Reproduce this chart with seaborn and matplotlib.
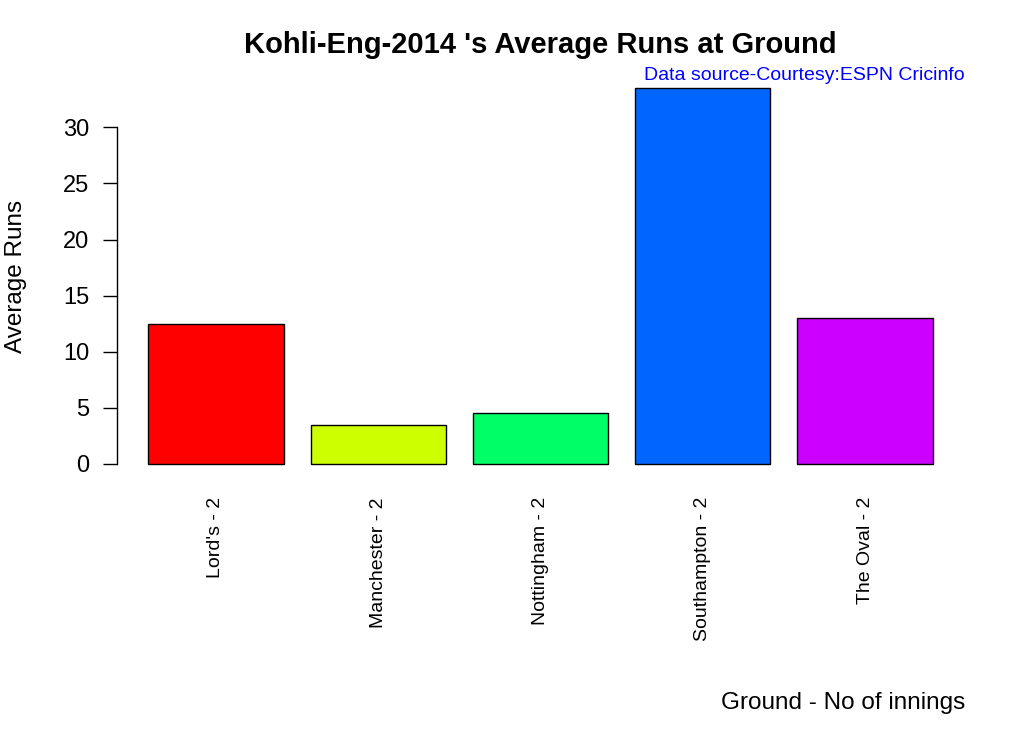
import matplotlib
matplotlib.use("Agg")
import matplotlib.pyplot as plt
import seaborn as sns

# average runs per ground (2 innings each)
grounds = ["Lord's - 2", "Manchester - 2", "Nottingham - 2", "Southampton - 2", "The Oval - 2"]
avg_runs = [12.5, 3.5, 4.5, 33.5, 13.0]
bar_colors = ["#FF0000", "#CCFF00", "#00FF66", "#0066FF", "#CC00FF"]
yticks = [0, 5, 10, 15, 20, 25, 30]

sns.set_style("white")
plt.rcParams['font.family'] = ['Liberation Sans', 'DejaVu Sans']
plt.rcParams['text.color'] = 'black'
plt.rcParams['xtick.color'] = 'black'
plt.rcParams['ytick.color'] = 'black'
plt.rcParams['axes.labelcolor'] = 'black'

W, H = 1024, 731
fig = plt.figure(figsize=(W / 100, H / 100), dpi=100)
ax = fig.add_axes([117 / W, 1 - 479 / H, (964 - 117) / W, (479 - 73) / H])

sns.barplot(x=grounds, y=avg_runs, hue=grounds, palette=bar_colors,
            edgecolor="black", linewidth=1, width=1 / 1.2, saturation=1,
            legend=False, ax=ax)

ax.set_xlim(-0.61, 4.61)
ax.set_ylim(-1.34, 34.84)
ax.set_yticks(yticks)
ax.set_yticklabels([str(t) for t in yticks])
ax.tick_params(axis='y', direction='out', length=10, width=1, color='black',
               labelcolor='black', labelsize=17, pad=10, left=True)
ax.tick_params(axis='x', length=0, labelsize=14, labelcolor='black', pad=13, rotation=90)
for lab in ax.get_xticklabels():
    lab.set_va('top')

for s in ['top', 'right', 'bottom']:
    ax.spines[s].set_visible(False)
ax.spines['left'].set_bounds(0, 30)
ax.spines['left'].set_color('black')
ax.spines['left'].set_linewidth(1)
ax.set_xlabel("")
ax.set_ylabel("")

fig.text(540.5 / W, 1 - 45 / H, "Kohli-Eng-2014 's Average Runs at Ground",
         ha='center', va='center', fontsize=21, fontweight='bold', color='black')
fig.text(965 / W, 1 - 75 / H, "Data source-Courtesy:ESPN Cricinfo",
         ha='right', va='center', fontsize=14, color='blue')
fig.text(965 / W, 1 - 703 / H, "Ground - No of innings",
         ha='right', va='center', fontsize=17.5, color='black')
fig.text(16 / W, 1 - 276 / H, "Average Runs", rotation=90,
         ha='center', va='center', fontsize=17.5, color='black')

fig.savefig("out.png", dpi=100, facecolor='white')
